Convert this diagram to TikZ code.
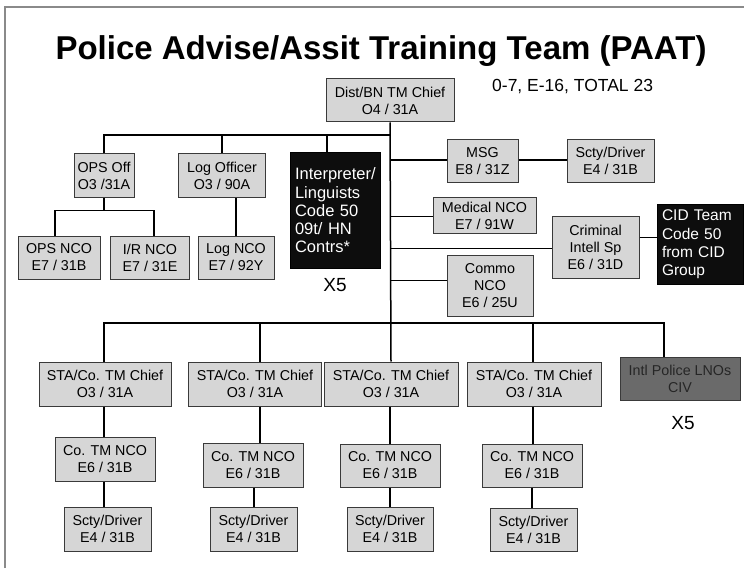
\documentclass[tikz,border=0pt]{standalone}
\usepackage{fontspec}
\setmainfont{Liberation Sans}
\definecolor{boxfill}{HTML}{D6D6D6}
\definecolor{boxline}{HTML}{3A3A3A}
\definecolor{intlfill}{HTML}{6A6A6A}
\definecolor{framecol}{HTML}{8A8A8A}
\newcommand\bxfont{\fontsize{14.3}{17}\selectfont}
\begin{document}
\begin{tikzpicture}[x=1pt,y=-1pt,
  box/.style={draw=boxline, fill=boxfill, line width=1pt, inner sep=0pt, align=center, font=\bxfont},
  blk/.style={draw=black, fill=black!95, text=white, line width=1pt, inner xsep=5pt, inner ysep=0pt, align=left},
  gbox/.style={box, fill=intlfill, text=black!85},
  conn/.style={line width=1.5pt, draw=black},
  lbl/.style={inner sep=0pt, font=\fontsize{19}{22}\selectfont}]
\useasboundingbox (0,0) rectangle (744,572);
\fill[white] (0,0) rectangle (744,572);
\draw[framecol, line width=1.3pt] (5,568) -- (5,7) -- (744,7);

\node[inner sep=0pt, anchor=base, font=\bfseries\fontsize{33}{36}\selectfont] (title) at (381,60) {Police Advise/Assit Training Team (PAAT)};
\node[inner sep=0pt, anchor=west, font=\fontsize{17.5}{20}\selectfont] (total) at (492,87) {0-7, E-16, TOTAL 23};

% top level
\node[box, minimum width=128, minimum height=43] (dist) at (390,100.5) {Dist/BN TM Chief\\O4 / 31A};

\node[box, minimum width=60, minimum height=44] (opsoff) at (104,176) {OPS Off\\O3 /31A};
\node[box, minimum width=87, minimum height=44] (logoff) at (222,176) {Log Officer\\O3 / 90A};
\node[blk, text width=80, minimum height=115, font=\fontsize{16.5}{18.3}\selectfont] (interp) at (335,210.5) {Interpreter/\\Linguists\\Code 50\\09t/ HN\\Contrs*\\ };
\node[lbl] (x5a) at (335,285) {X5};

\node[box, minimum width=82, minimum height=43] (opsnco) at (59,257.5) {OPS NCO\\E7 / 31B};
\node[box, minimum width=79, minimum height=43] (irnco) at (150,257.5) {I/R NCO\\E7 / 31E};
\node[box, minimum width=76, minimum height=43] (lognco) at (236,257.5) {Log NCO\\E7 / 92Y};

\node[box, minimum width=71, minimum height=43] (msg) at (482.5,161) {MSG\\E8 / 31Z};
\node[box, minimum width=87, minimum height=43] (scty0) at (610.5,161) {Scty/Driver\\E4 / 31B};
\node[box, minimum width=103, minimum height=35] (med) at (484.5,215.5) {Medical NCO\\E7 / 91W};
\node[box, minimum width=87, minimum height=61] (crim) at (595.5,247.5) {Criminal\\Intell Sp\\E6 / 31D};
\node[blk, text width=76, minimum height=79, font=\fontsize{15.5}{18.3}\selectfont] (cid) at (700,244.5) {CID Team\\Code 50\\from CID\\Group};
\node[box, minimum width=86, minimum height=61] (commo) at (490,285.5) {Commo\\NCO\\E6 / 25U};

% company teams
\node[box, minimum width=132, minimum height=44] (sta1) at (105,384) {STA/Co. TM Chief\\O3 / 31A};
\node[box, minimum width=133, minimum height=44] (sta2) at (255,384) {STA/Co. TM Chief\\O3 / 31A};
\node[box, minimum width=134, minimum height=44] (sta3) at (391,384) {STA/Co. TM Chief\\O3 / 31A};
\node[box, minimum width=134, minimum height=44] (sta4) at (534,384) {STA/Co. TM Chief\\O3 / 31A};
\node[gbox, minimum width=120, minimum height=43] (intl) at (680,378.5) {Intl Police LNOs\\CIV};
\node[lbl] (x5b) at (683,423) {X5};

\node[box, minimum width=100, minimum height=44] (cotm1) at (105,459) {Co. TM NCO\\E6 / 31B};
\node[box, minimum width=100, minimum height=44] (cotm2) at (253,465) {Co. TM NCO\\E6 / 31B};
\node[box, minimum width=100, minimum height=43] (cotm3) at (390,465.5) {Co. TM NCO\\E6 / 31B};
\node[box, minimum width=100, minimum height=43] (cotm4) at (532,465.5) {Co. TM NCO\\E6 / 31B};

\node[box, minimum width=87, minimum height=44] (scty1) at (107.5,529) {Scty/Driver\\E4 / 31B};
\node[box, minimum width=87, minimum height=44] (scty2) at (253.5,529) {Scty/Driver\\E4 / 31B};
\node[box, minimum width=86, minimum height=44] (scty3) at (390,529) {Scty/Driver\\E4 / 31B};
\node[box, minimum width=87, minimum height=43] (scty4) at (533.5,529.5) {Scty/Driver\\E4 / 31B};

% connectors
\coordinate (tb) at (390,135);
\coordinate (bb) at (390,323);
\draw[conn] (dist.south) -- (sta3.north);
\draw[conn] (opsoff.north) |- (tb);
\draw[conn] (logoff.north) -- (logoff.north |- tb);
\draw[conn] (interp.north -| 327,0) -- (tb -| 327,0);
\draw[conn] (opsoff.south) -- ++(0,12) coordinate (ob);
\draw[conn] (opsnco.north -| 55,0) |- (ob) -| (irnco.north -| 154,0);
\draw[conn] (lognco.north) -- (lognco.north |- logoff.south);

\draw[conn] ([yshift=1pt]msg.west) -- ([yshift=1pt]msg.west -| dist.south);
\draw[conn] ([yshift=1pt]msg.east) -- ([yshift=1pt]scty0.west);
\draw[conn] ([yshift=-1pt]med.west) -- ([yshift=-1pt]med.west -| dist.south);
\draw[conn] ([yshift=-1pt]crim.west) -- ([yshift=-1pt]crim.west -| dist.south);
\draw[conn] ([yshift=10pt]crim.east) -- ([yshift=10pt]crim.east -| cid.west);
\draw[conn] ([yshift=5pt]commo.west) -- ([yshift=5pt]commo.west -| dist.south);

\draw[conn] ([xshift=-1pt]sta1.north) |- (bb) -| ([xshift=-16pt]intl.north);
\draw[conn] ([xshift=5pt]sta2.north) -- ([xshift=5pt]sta2.north |- bb);
\draw[conn] ([xshift=-1pt]sta4.north) -- ([xshift=-1pt]sta4.north |- bb);

\draw[conn] ([xshift=-1pt]sta1.south) -- ([xshift=-1pt]sta1.south |- cotm1.north);
\draw[conn] ([xshift=5pt]sta2.south) -- ([xshift=5pt]sta2.south |- cotm2.north);
\draw[conn] ([xshift=-1pt]sta3.south) -- ([xshift=-1pt]sta3.south |- cotm3.north);
\draw[conn] ([xshift=-1pt]sta4.south) -- ([xshift=-1pt]sta4.south |- cotm4.north);

\draw[conn] ([xshift=-1pt]cotm1.south) -- ([xshift=-1pt]cotm1.south |- scty1.north);
\draw[conn] ([xshift=1pt]cotm2.south) -- ([xshift=1pt]cotm2.south |- scty2.north);
\draw[conn] (cotm3.south) -- (cotm3.south |- scty3.north);
\draw[conn] (cotm4.south) -- (cotm4.south |- scty4.north);
\end{tikzpicture}
\end{document}
